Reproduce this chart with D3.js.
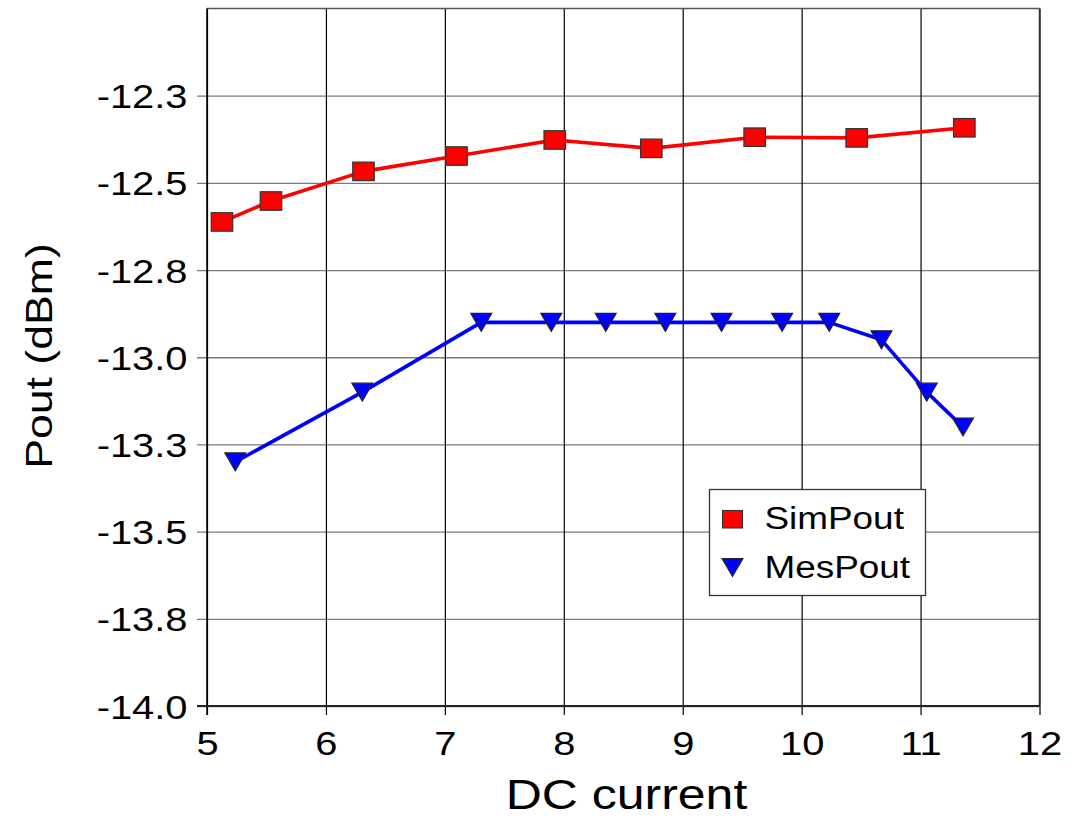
<!DOCTYPE html>
<html>
<head>
<meta charset="utf-8">
<script src="https://cdn.jsdelivr.net/npm/d3@7"></script>
<style>
  html, body { margin: 0; padding: 0; background: #fff; }
  svg { display: block; }
  text { font-family: "Liberation Sans", Arial, Helvetica, sans-serif; fill: #000; }
</style>
</head>
<body>
<svg id="chart" width="1077" height="818"></svg>
<script>
// ---- data ----
const simX = [5.126, 5.538, 6.316, 7.098, 7.924, 8.736, 9.605, 10.463, 11.368];
const simY = [-12.612, -12.552, -12.467, -12.423, -12.377, -12.401, -12.369, -12.371, -12.342];
const mesX = [5.238, 6.306, 7.306, 7.895, 8.353, 8.854, 9.326, 9.836, 10.232, 10.671, 11.052, 11.357];
const mesY = [-13.30, -13.10, -12.90, -12.90, -12.90, -12.90, -12.90, -12.90, -12.90, -12.95, -13.10, -13.20];
const xTicks = [5, 6, 7, 8, 9, 10, 11, 12];
const xTickLabels = ["5", "6", "7", "8", "9", "10", "11", "12"];
const yTicks = [-14.0, -13.75, -13.5, -13.25, -13.0, -12.75, -12.5, -12.25];
const yTickLabels = ["-14.0", "-13.8", "-13.5", "-13.3", "-13.0", "-12.8", "-12.5", "-12.3"];
const seriesNames = ["SimPout", "MesPout"];
const xTitle = "DC current";
const yTitle = "Pout (dBm)";

// ---- layout ----
const L = 207, R = 1039.5, T = 8.5, B = 706;
const plotW = R - L, plotH = B - T;
const SX = 1.19; // horizontal glyph stretch of the original rendering

const svg = d3.select("#chart");
const x = d3.scaleLinear().domain([5, 12]).range([L, R]);
const y = d3.scaleLinear().domain([-14, -12]).range([B, T]);

// horizontal gridlines + left ticks
const gy = svg.append("g").attr("transform", `translate(${L},0)`)
  .call(d3.axisLeft(y).tickValues(yTicks).tickSize(-plotW).tickPadding(0)
        .tickFormat((d) => yTickLabels[yTicks.indexOf(d)]));
gy.select(".domain").remove();
gy.selectAll(".tick line").attr("x1", -10).attr("stroke", "#7a7a7a").attr("stroke-width", 1.3);
gy.selectAll(".tick text")
  .attr("x", -19.5 / SX).attr("y", 12).attr("dy", 0)
  .attr("transform", `scale(${SX},1)`)
  .style("font-size", "33.5px").style("font-family", '"Liberation Sans", Arial, sans-serif')
  .attr("fill", "#000").attr("text-anchor", "end");

// vertical gridlines + bottom ticks
const gx = svg.append("g").attr("transform", `translate(0,${B})`)
  .call(d3.axisBottom(x).tickValues(xTicks).tickSize(-plotH).tickPadding(0)
        .tickFormat((d) => xTickLabels[xTicks.indexOf(d)]));
gx.select(".domain").remove();
gx.selectAll(".tick line").attr("y1", 9).attr("stroke", "#000").attr("stroke-width", 1.2);
gx.selectAll(".tick text")
  .attr("y", 49).attr("dy", 0)
  .attr("transform", `scale(${SX},1)`)
  .attr("x", 0)
  .style("font-size", "33.5px").style("font-family", '"Liberation Sans", Arial, sans-serif')
  .attr("fill", "#000").attr("text-anchor", "middle");

// plot frame
svg.append("line").attr("x1", L).attr("x2", R).attr("y1", T).attr("y2", T)
  .attr("stroke", "#555").attr("stroke-width", 1.5);
svg.append("line").attr("x1", R).attr("x2", R).attr("y1", T).attr("y2", B)
  .attr("stroke", "#333").attr("stroke-width", 1.5);
svg.append("line").attr("x1", L).attr("x2", L).attr("y1", T).attr("y2", B + 9)
  .attr("stroke", "#000").attr("stroke-width", 1.5);
svg.append("line").attr("x1", L - 10).attr("x2", R).attr("y1", B).attr("y2", B)
  .attr("stroke", "#222").attr("stroke-width", 1.8);

// series lines
const simData = simX.map((v, i) => [v, simY[i]]);
const mesData = mesX.map((v, i) => [v, mesY[i]]);
const line = d3.line().x(d => x(d[0])).y(d => y(d[1]));
svg.append("path").datum(simData).attr("d", line)
  .attr("fill", "none").attr("stroke", "#ff0000").attr("stroke-width", 3.6).attr("stroke-linejoin", "round");
svg.append("path").datum(mesData).attr("d", line)
  .attr("fill", "none").attr("stroke", "#0000ff").attr("stroke-width", 3.6).attr("stroke-linejoin", "round");

// markers
const SQW = 21.5, SQH = 18.5, TRW = 21, TRH = 18;
const triPath = `M${-TRW/2},${-TRH/2}L${TRW/2},${-TRH/2}L0,${TRH/2}Z`;
svg.append("g").selectAll("rect").data(simData).join("rect")
  .attr("x", d => x(d[0]) - SQW / 2).attr("y", d => y(d[1]) - SQH / 2)
  .attr("width", SQW).attr("height", SQH)
  .attr("fill", "#ff0000").attr("stroke", "#333").attr("stroke-width", 1.2);
svg.append("g").selectAll("path").data(mesData).join("path")
  .attr("d", triPath)
  .attr("transform", d => `translate(${x(d[0])},${y(d[1])})`)
  .attr("fill", "#0000ff").attr("stroke", "#222").attr("stroke-width", 1.1);

// legend
const lg = svg.append("g");
lg.append("rect").attr("x", 709.5).attr("y", 489.5).attr("width", 216).attr("height", 106)
  .attr("fill", "#fff").attr("stroke", "#333").attr("stroke-width", 1.3);
lg.append("rect").attr("x", 722.5).attr("y", 510.5).attr("width", 20).attr("height", 17.5)
  .attr("fill", "#ff0000").attr("stroke", "#333").attr("stroke-width", 1.1);
lg.append("path").attr("d", triPath).attr("transform", "translate(732.5,567.5)")
  .attr("fill", "#0000ff").attr("stroke", "#222").attr("stroke-width", 1.1);
[529, 578].forEach((by, i) => {
  lg.append("text").text(seriesNames[i])
    .attr("transform", `translate(764.5,${by}) scale(${SX},1)`)
    .style("font-size", "31px");
});

// axis titles
svg.append("text").text(xTitle)
  .attr("transform", `translate(626.5,809) scale(${SX},1)`)
  .attr("text-anchor", "middle").style("font-size", "42px");
svg.append("text").text(yTitle)
  .attr("transform", `translate(52,356) rotate(-90) scale(${SX},1)`)
  .attr("text-anchor", "middle").style("font-size", "37.5px");
</script>
</body>
</html>
